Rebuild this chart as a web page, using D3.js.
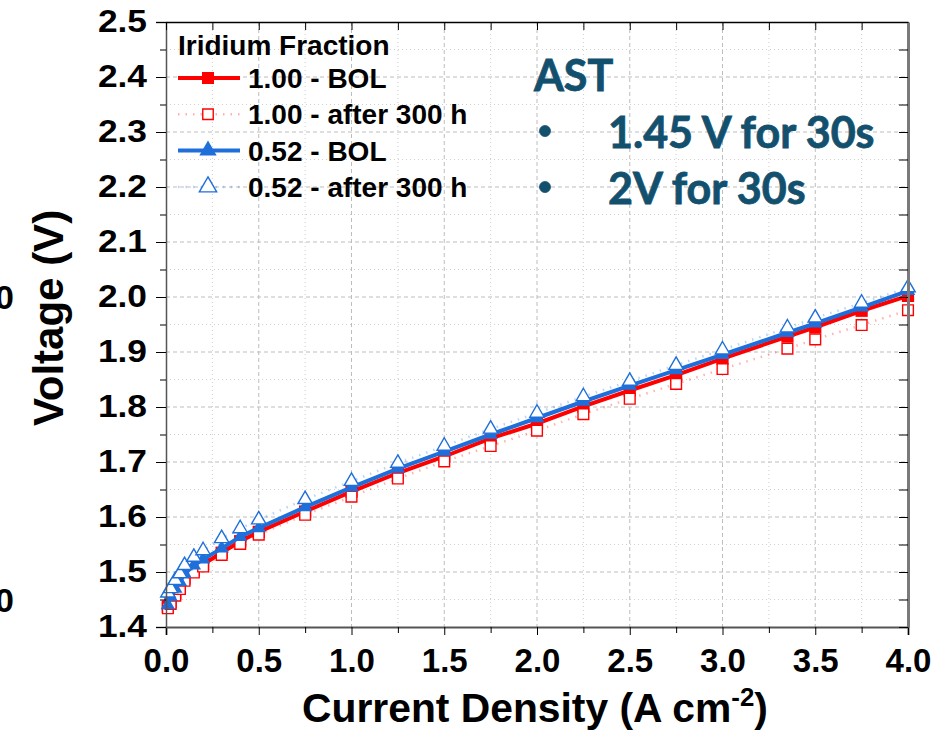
<!DOCTYPE html>
<html>
<head>
<meta charset="utf-8">
<script src="https://d3js.org/d3.v7.min.js"></script>
<style>
    body { margin: 0; background: #fff; }
    svg { display: block; }
    .tick text { font-family: "Liberation Sans", Arial, sans-serif; font-weight: bold; fill: #000; }
</style>
</head>
<body>
<svg width="940" height="731"></svg>
<script>
    // current density (A cm-2)
    var currents = [0.01, 0.025, 0.05, 0.075, 0.1, 0.15, 0.2, 0.3, 0.4, 0.5, 0.75, 1.0, 1.25, 1.5, 1.75, 2.0, 2.25, 2.5, 2.75, 3.0, 3.35, 3.5, 3.75, 4.0];
    // cell voltage (V)
    var ir100Bol = [1.437, 1.445, 1.461, 1.473, 1.488, 1.503, 1.514, 1.535, 1.556, 1.573, 1.610, 1.646, 1.680, 1.710, 1.743, 1.770, 1.801, 1.830, 1.858, 1.888, 1.928, 1.945, 1.975, 2.002];
    var ir100After = [1.434, 1.442, 1.457, 1.469, 1.484, 1.499, 1.510, 1.531, 1.551, 1.568, 1.604, 1.637, 1.670, 1.701, 1.729, 1.757, 1.787, 1.815, 1.842, 1.869, 1.906, 1.923, 1.949, 1.976];
    var ir52Bol = [1.440, 1.455, 1.470, 1.482, 1.497, 1.512, 1.523, 1.543, 1.564, 1.580, 1.618, 1.654, 1.688, 1.719, 1.750, 1.780, 1.810, 1.839, 1.867, 1.895, 1.935, 1.952, 1.981, 2.011];
    var ir52After = [1.462, 1.470, 1.485, 1.497, 1.512, 1.527, 1.539, 1.561, 1.579, 1.595, 1.632, 1.665, 1.698, 1.729, 1.760, 1.789, 1.819, 1.847, 1.876, 1.904, 1.944, 1.962, 1.989, 2.017];

    var xTicks = [0, 0.5, 1.0, 1.5, 2.0, 2.5, 3.0, 3.5, 4.0];
    var xMinor = [0.25, 0.75, 1.25, 1.75, 2.25, 2.75, 3.25, 3.75];
    var yTicks = [1.4, 1.5, 1.6, 1.7, 1.8, 1.9, 2.0, 2.1, 2.2, 2.3, 2.4, 2.5];
    var yMinor = [1.45, 1.55, 1.65, 1.75, 1.85, 1.95, 2.05, 2.15, 2.25, 2.35, 2.45];

    var legendTitle = 'Iridium Fraction';
    var seriesNames = ['1.00 - BOL', '1.00 - after 300 h', '0.52 - BOL', '0.52 - after 300 h'];
    var astLines = ['AST', '1.45 V for 30s', '2V for 30s'];

    var red = '#ff0000', blue = '#1f6fdb';
    var series = [
        {name: seriesNames[0], v: ir100Bol, color: red, shape: 'square', filled: true, line: 'solid'},
        {name: seriesNames[1], v: ir100After, color: red, shape: 'square', filled: false, line: 'dot'},
        {name: seriesNames[2], v: ir52Bol, color: blue, shape: 'triangle', filled: true, line: 'solid'},
        {name: seriesNames[3], v: ir52After, color: blue, shape: 'triangle', filled: false, line: 'dot'}
    ];

    var margin = {left: 166, top: 22, right: 32, bottom: 104};
    var W = 940 - margin.left - margin.right;
    var H = 731 - margin.top - margin.bottom;

    var x = d3.scaleLinear().domain([0, 4]).range([0, W]);
    var y = d3.scaleLinear().domain([1.4, 2.5]).range([H, 0]);

    var svg = d3.select('svg');
    var g = svg.append('g').attr('transform', 'translate(' + margin.left + ',' + margin.top + ')');

    // grid
    var grid = g.append('g');
    grid.selectAll('line.vmaj').data(xTicks.slice(1, -1)).enter().append('line')
        .attr('x1', x).attr('x2', x).attr('y1', 0).attr('y2', H)
        .attr('stroke', '#bdbdbd').attr('stroke-width', 1).attr('stroke-dasharray', '4,3');
    grid.selectAll('line.vmin').data(xMinor).enter().append('line')
        .attr('x1', x).attr('x2', x).attr('y1', 0).attr('y2', H)
        .attr('stroke', '#cfcfcf').attr('stroke-width', 1).attr('stroke-dasharray', '1,3');
    grid.selectAll('line.hmaj').data(yTicks.slice(1, -1)).enter().append('line')
        .attr('y1', y).attr('y2', y).attr('x1', 0).attr('x2', W)
        .attr('stroke', '#bdbdbd').attr('stroke-width', 1).attr('stroke-dasharray', '4,3');
    grid.selectAll('line.hmin').data(yMinor).enter().append('line')
        .attr('y1', y).attr('y2', y).attr('x1', 0).attr('x2', W)
        .attr('stroke', '#cfcfcf').attr('stroke-width', 1).attr('stroke-dasharray', '1,3');

    var line = d3.line().x(function(d) { return x(d[0]); }).y(function(d) { return y(d[1]); });

    function symPath(shape, size) {
        return d3.symbol().type(shape === 'square' ? d3.symbolSquare : d3.symbolTriangle).size(size)();
    }

    function styleLine(sel, s) {
        if (s.line === 'solid') {
            sel.attr('stroke', s.color).attr('stroke-width', 4);
        } else {
            sel.attr('stroke', s.color).attr('stroke-opacity', 0.3).attr('stroke-width', 2.5).attr('stroke-dasharray', '1.5,6');
        }
        return sel.attr('fill', 'none');
    }

    function styleMarker(sel, s) {
        if (s.filled) sel.attr('fill', s.color).attr('stroke', 'none');
        else sel.attr('fill', '#fff').attr('stroke', s.color).attr('stroke-width', 1.4);
        return sel;
    }

    var plot = g.append('g');
    series.forEach(function(s) {
        var pts = currents.map(function(c, i) { return [c, s.v[i]]; });
        plot.append('path').datum(pts).attr('d', line).call(styleLine, s);
        var size = s.shape === 'square' ? (s.filled ? 150 : 115) : 90;
        plot.selectAll(null).data(pts).enter().append('path')
            .attr('d', symPath(s.shape, size))
            .attr('transform', function(d) { return 'translate(' + x(d[0]) + ',' + y(d[1]) + ')'; })
            .call(styleMarker, s);
    });

    // axes
    var xAxis = g.append('g').attr('transform', 'translate(0,' + H + ')')
        .call(d3.axisBottom(x).tickValues(xTicks).tickFormat(d3.format('.1f')).tickSize(8).tickPadding(14));
    xAxis.selectAll('.tick text').style('font-size', '33px');
    g.append('g').attr('transform', 'translate(0,' + H + ')')
        .call(d3.axisBottom(x).tickValues(xMinor).tickFormat('').tickSize(6))
        .select('.domain').remove();
    xAxis.select('.domain').attr('stroke', '#555').attr('stroke-width', 2);

    var ySx = 1.14;
    var yAxis = g.append('g')
        .call(d3.axisLeft(y).tickValues(yTicks).tickFormat(d3.format('.1f')).tickSize(10).tickPadding(9));
    yAxis.selectAll('.tick text').style('font-size', '31px')
        .attr('x', -19 / ySx).attr('transform', 'scale(' + ySx + ',1)');
    yAxis.select('.domain').attr('stroke', '#555').attr('stroke-width', 1.5);
    g.append('g').call(d3.axisLeft(y).tickValues(yMinor).tickFormat('').tickSize(6))
        .select('.domain').remove();

    var topAx = g.append('g').call(d3.axisTop(x).tickValues(xTicks.concat(xMinor)).tickFormat('').tickSizeInner(-8).tickSizeOuter(0));
    topAx.select('.domain').attr('stroke', '#000').attr('stroke-width', 1.5);
    var rightAx = g.append('g').attr('transform', 'translate(' + W + ',0)')
        .call(d3.axisRight(y).tickValues(yTicks.concat(yMinor)).tickFormat('').tickSizeInner(-9).tickSizeOuter(0));
    rightAx.select('.domain').attr('stroke', '#7a7a7a').attr('stroke-width', 3);

    // axis titles
    var xt = svg.append('text').attr('x', 0).attr('y', 0)
        .attr('text-anchor', 'middle')
        .style('font-family', '"Liberation Sans", Arial, sans-serif')
        .style('font-weight', 'bold').style('font-size', '41px');
    xt.append('tspan').text('Current Density (A cm');
    xt.append('tspan').attr('dy', -16).style('font-size', '26px').text('-2');
    xt.append('tspan').attr('dy', 16).text(')');
    var xtw = xt.node().getBBox().width;
    xt.attr('transform', 'translate(535,722) scale(' + (466 / xtw) + ',1)');

    svg.append('text').attr('transform', 'translate(63,318) rotate(-90)')
        .attr('text-anchor', 'middle')
        .style('font-family', '"Liberation Sans", Arial, sans-serif')
        .style('font-weight', 'bold').style('font-size', '42px')
        .text('Voltage (V)');

    // clipped labels from the neighbouring panel
    [2.0, 1.45].forEach(function(v) {
        svg.append('text').attr('x', 14).attr('y', margin.top + y(v) + 12)
            .attr('text-anchor', 'end')
            .style('font-family', '"Liberation Sans", Arial, sans-serif')
            .style('font-weight', 'bold').style('font-size', '34px')
            .text('0');
    });

    // legend
    var leg = svg.append('g');
    leg.append('text').attr('x', 178).attr('y', 55)
        .style('font-family', '"Liberation Sans", Arial, sans-serif')
        .style('font-weight', 'bold').style('font-size', '28px')
        .text(legendTitle);
    series.forEach(function(s, i) {
        var cy = 78 + i * 36.3;
        leg.append('line').attr('x1', 178).attr('x2', 240).attr('y1', cy).attr('y2', cy).call(styleLine, s);
        var size = s.shape === 'square' ? (s.filled ? 144 : 110) : 130;
        leg.append('path').attr('d', symPath(s.shape, size))
            .attr('transform', 'translate(208,' + cy + ')').call(styleMarker, s);
        leg.append('text').attr('x', 248).attr('y', cy + 10)
            .style('font-family', '"Liberation Sans", Arial, sans-serif')
            .style('font-weight', 'bold').style('font-size', '28px')
            .text(s.name);
    });

    // AST annotation
    var ast = svg.append('g').style('font-family', 'Lato, "Open Sans", sans-serif')
        .style('font-weight', 'bold').attr('fill', '#13506e')
        .attr('stroke', '#13506e').attr('stroke-width', 0.8);
    ast.append('text').attr('x', 534).attr('y', 91).style('font-size', '43px').text(astLines[0]);
    [148, 204].forEach(function(by, i) {
        ast.append('circle').attr('cx', 545).attr('cy', by - 17).attr('r', 5.5);
        ast.append('text').attr('x', 608).attr('y', by).style('font-size', '43px').text(astLines[i + 1]);
    });
</script>
</body>
</html>
